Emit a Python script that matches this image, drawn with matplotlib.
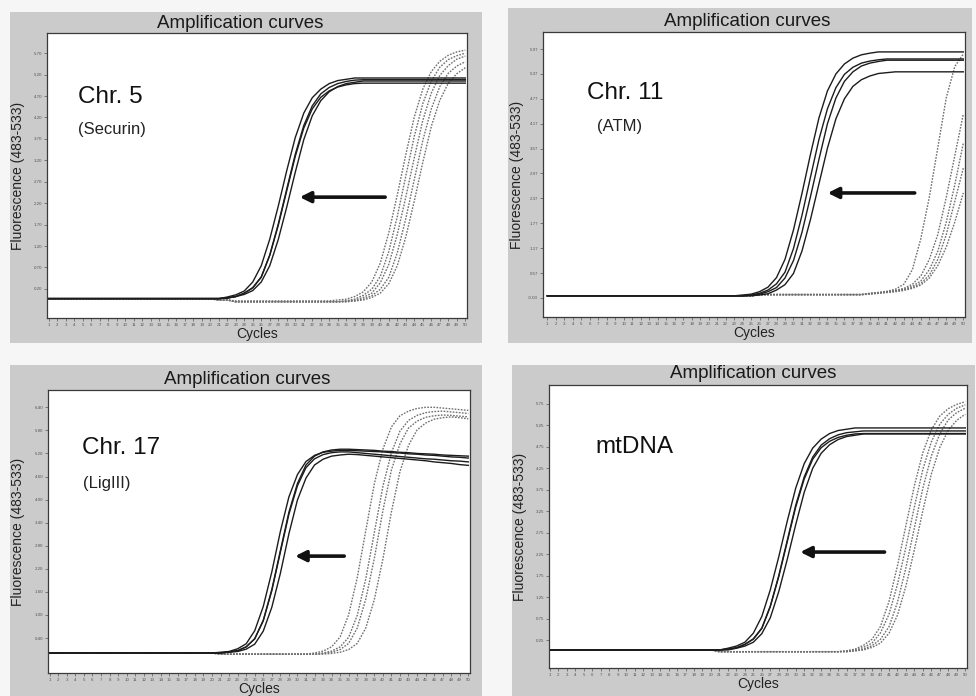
import numpy as np
import matplotlib
matplotlib.use("Agg")
import matplotlib.pyplot as plt
from matplotlib.patches import Rectangle

plt.rcParams['font.family'] = ['Liberation Sans', 'DejaVu Sans']

cycles = np.arange(1, 51)

# ---- Chr. 5 (Securin) ----
chr5_ticks = [0.20, 0.70, 1.20, 1.70, 2.20, 2.70, 3.20, 3.70, 4.20, 4.70, 5.20, 5.70]
chr5_solid = [
    [-0.03] * 21 + [-0.01, 0.02, 0.10, 0.23, 0.48, 0.99, 1.71, 2.53, 3.34, 4.01, 4.47, 4.75, 4.90, 4.99, 5.04, 5.07] + [5.08] * 13,
    [-0.03] * 21 + [0.01, 0.06, 0.15, 0.36, 0.74, 1.36, 2.13, 2.96, 3.73, 4.30, 4.66, 4.86, 4.99, 5.06, 5.09] + [5.12] * 14,
    [-0.02] * 22 + [0.02, 0.07, 0.16, 0.36, 0.74, 1.35, 2.11, 2.92, 3.68, 4.24, 4.59, 4.80, 4.92, 4.99, 5.02] + [5.05] * 13,
    [-0.03] * 21 + [-0.01, 0.02, 0.10, 0.22, 0.47, 0.98, 1.68, 2.49, 3.29, 3.95, 4.40, 4.67, 4.82, 4.91, 4.96, 4.99] + [5.00] * 13,
]
chr5_dotted = [
    [-0.03] * 20 + [-0.06] * 2 + [-0.08] * 12 + [-0.06, -0.04, 0.02, 0.13, 0.36, 0.80, 1.51, 2.39, 3.33, 4.21, 4.86, 5.27, 5.51, 5.65, 5.73, 5.77],
    [-0.03] * 20 + [-0.06] * 2 + [-0.10] * 13 + [-0.08, -0.04, 0.05, 0.19, 0.49, 1.07, 1.89, 2.83, 3.76, 4.52, 5.05, 5.37, 5.55, 5.64, 5.70],
    [-0.03] * 20 + [-0.06] * 2 + [-0.10] * 13 + [-0.08, -0.06, 0.00, 0.10, 0.34, 0.77, 1.47, 2.34, 3.26, 4.13, 4.77, 5.18, 5.41, 5.56, 5.63],
    [-0.03] * 20 + [-0.06] * 2 + [-0.10] * 14 + [-0.08, -0.04, 0.04, 0.19, 0.47, 1.04, 1.84, 2.75, 3.66, 4.40, 4.92, 5.23, 5.40, 5.50],
    [-0.03] * 20 + [-0.06] * 2 + [-0.10] * 14 + [-0.08, -0.06, 0.00, 0.10, 0.32, 0.74, 1.41, 2.25, 3.15, 3.99, 4.60, 5.00, 5.22, 5.36],
]

# ---- Chr. 11 (ATM) ----
chr11_ticks = [-0.03, 0.57, 1.17, 1.77, 2.37, 2.97, 3.57, 4.17, 4.77, 5.37, 5.97]
chr11_solid = [
    [0.02] * 23 + [0.04, 0.06, 0.12, 0.23, 0.46, 0.90, 1.61, 2.49, 3.43, 4.31, 4.96, 5.37, 5.61, 5.75, 5.83, 5.87] + [5.90] * 11,
    [0.02] * 24 + [0.04, 0.08, 0.16, 0.31, 0.59, 1.16, 1.96, 2.88, 3.79, 4.53, 5.04, 5.36, 5.53, 5.63, 5.68, 5.71] + [5.73] * 10,
    [0.02] * 24 + [0.04, 0.06, 0.12, 0.22, 0.45, 0.87, 1.55, 2.41, 3.31, 4.17, 4.79, 5.19, 5.42, 5.56, 5.63, 5.67] + [5.70] * 10,
    [0.02] * 25 + [0.04, 0.07, 0.16, 0.29, 0.56, 1.10, 1.86, 2.72, 3.58, 4.29, 4.77, 5.07, 5.23, 5.32, 5.38, 5.40] + [5.42] * 9,
]
chr11_dotted = [
    [0.02] * 25 + [0.05] * 13 + [0.08, 0.10, 0.13, 0.18, 0.30, 0.65, 1.40, 2.40, 3.60, 4.80, 5.55, 5.85],
    [0.02] * 25 + [0.05] * 13 + [0.08, 0.10, 0.12, 0.15, 0.20, 0.30, 0.50, 0.90, 1.50, 2.40, 3.40, 4.40],
    [0.02] * 25 + [0.05] * 13 + [0.07, 0.09, 0.11, 0.14, 0.18, 0.25, 0.38, 0.65, 1.10, 1.80, 2.70, 3.70],
    [0.02] * 25 + [0.05] * 13 + [0.07, 0.09, 0.11, 0.13, 0.17, 0.22, 0.32, 0.52, 0.90, 1.50, 2.30, 3.10],
    [0.02] * 25 + [0.05] * 13 + [0.06, 0.08, 0.10, 0.12, 0.15, 0.20, 0.28, 0.45, 0.75, 1.20, 1.80, 2.50],
]

# ---- Chr. 17 (LigIII) ----
chr17_ticks = [0.40, 1.00, 1.60, 2.20, 2.80, 3.40, 4.00, 4.60, 5.20, 5.80, 6.40]
chr17_solid = [
    [0.01] * 21 + [0.04, 0.07, 0.17, 0.38, 0.86, 1.66, 2.67, 3.67, 4.42, 4.90, 5.13, 5.24, 5.29, 5.31,
                   5.31, 5.30, 5.29, 5.28, 5.26, 5.25, 5.23, 5.22, 5.20, 5.19, 5.18, 5.16, 5.15, 5.14, 5.13],
    [0.01] * 21 + [0.04, 0.07, 0.17, 0.38, 0.85, 1.63, 2.63, 3.62, 4.36, 4.83, 5.06, 5.17, 5.22, 5.24,
                   5.24, 5.22, 5.20, 5.18, 5.16, 5.14, 5.12, 5.10, 5.08, 5.06, 5.05, 5.03, 5.01, 5.00, 4.98],
    [0.01] * 21 + [0.03, 0.05, 0.11, 0.24, 0.58, 1.20, 2.08, 3.11, 3.99, 4.56, 4.90, 5.05, 5.13, 5.16,
                   5.18, 5.17, 5.15, 5.13, 5.11, 5.09, 5.07, 5.05, 5.03, 5.01, 4.98, 4.96, 4.94, 4.91, 4.89],
    [0.01] * 20 + [0.03, 0.05, 0.12, 0.25, 0.59, 1.22, 2.12, 3.17, 4.07, 4.65, 4.99, 5.15, 5.23, 5.26, 5.28,
                   5.28, 5.27, 5.26, 5.25, 5.24, 5.22, 5.21, 5.19, 5.18, 5.16, 5.15, 5.13, 5.11, 5.10, 5.08],
]
chr17_dotted = [
    [0.01] * 20 + [-0.02] * 11 + [0.01, 0.06, 0.17, 0.43, 1.01, 1.97, 3.19, 4.41, 5.31, 5.89, 6.18, 6.30, 6.37, 6.40, 6.40, 6.38, 6.36, 6.34, 6.32],
    [0.01] * 20 + [-0.02] * 12 + [0.01, 0.06, 0.17, 0.42, 0.99, 1.94, 3.14, 4.34, 5.22, 5.78, 6.06, 6.19, 6.26, 6.29, 6.30, 6.28, 6.26, 6.24],
    [0.01] * 20 + [-0.02] * 12 + [0.00, 0.03, 0.10, 0.26, 0.66, 1.41, 2.47, 3.71, 4.77, 5.45, 5.86, 6.04, 6.14, 6.18, 6.20, 6.19, 6.17, 6.15],
    [0.01] * 20 + [-0.02] * 13 + [0.00, 0.03, 0.10, 0.26, 0.66, 1.40, 2.45, 3.68, 4.73, 5.41, 5.81, 5.99, 6.09, 6.13, 6.15, 6.13, 6.10],
]

# ---- mtDNA ----
mt_ticks = [0.25, 0.75, 1.25, 1.75, 2.25, 2.75, 3.25, 3.75, 4.25, 4.75, 5.25, 5.75]
mt_solid = [
    [0.02] * 21 + [0.06, 0.11, 0.20, 0.41, 0.80, 1.42, 2.19, 3.02, 3.79, 4.36, 4.72, 4.93, 5.06, 5.13, 5.16] + [5.19] * 14,
    [0.02] * 21 + [0.04, 0.07, 0.15, 0.28, 0.53, 1.04, 1.75, 2.57, 3.39, 4.05, 4.51, 4.79, 4.94, 5.03, 5.08, 5.10] + [5.12] * 13,
    [0.02] * 22 + [0.06, 0.11, 0.20, 0.40, 0.77, 1.38, 2.13, 2.94, 3.69, 4.25, 4.60, 4.80, 4.92, 4.99, 5.02] + [5.05] * 13,
    [0.02] * 21 + [0.04, 0.07, 0.15, 0.27, 0.52, 1.03, 1.73, 2.54, 3.35, 4.00, 4.46, 4.73, 4.88, 4.97, 5.02, 5.05] + [5.06] * 13,
]
mt_dotted = [
    [0.02] * 20 + [-0.02] * 15 + [0.00, 0.04, 0.13, 0.27, 0.57, 1.15, 1.98, 2.92, 3.85, 4.62, 5.15, 5.47, 5.64, 5.74, 5.80],
    [0.02] * 20 + [-0.02] * 15 + [0.00, 0.02, 0.08, 0.18, 0.42, 0.85, 1.55, 2.42, 3.36, 4.23, 4.87, 5.28, 5.51, 5.65, 5.73],
    [0.02] * 20 + [-0.02] * 16 + [0.00, 0.04, 0.12, 0.27, 0.56, 1.13, 1.94, 2.87, 3.79, 4.54, 5.06, 5.38, 5.55, 5.65],
    [0.02] * 20 + [-0.02] * 16 + [0.00, 0.02, 0.08, 0.18, 0.41, 0.83, 1.51, 2.36, 3.27, 4.12, 4.74, 5.14, 5.37, 5.51],
]

panels = [
    # frame and axes boxes in pixels (x0, y0, x1, y1) from the top left
    dict(frame=(10, 12, 482, 343), ax=(47, 33, 467, 318), xlim=(0.8, 50.2), ylim=(-0.48, 6.17),
         ticks=chr5_ticks, solid=chr5_solid, dotted=chr5_dotted,
         name="Chr. 5", sub="(Securin)", name_xy=(0.074, 0.775), sub_xy=(0.074, 0.66),
         arrow=(40.9, 30.2, 2.34), title_xy=(240, 23), ylab_x=18),
    dict(frame=(508, 8, 972, 343), ax=(543, 32, 965, 317), xlim=(0.5, 50.2), ylim=(-0.49, 6.38),
         ticks=chr11_ticks, solid=chr11_solid, dotted=chr11_dotted,
         name="Chr. 11", sub="(ATM)", name_xy=(0.104, 0.786), sub_xy=(0.128, 0.67),
         arrow=(44.6, 33.7, 2.5), title_xy=(747, 21), ylab_x=517),
    dict(frame=(10, 365, 482, 696), ax=(48, 390, 470, 673), xlim=(0.8, 50.2), ylim=(-0.51, 6.85),
         ticks=chr17_ticks, solid=chr17_solid, dotted=chr17_dotted,
         name="Chr. 17", sub="(LigIII)", name_xy=(0.08, 0.795), sub_xy=(0.083, 0.67),
         arrow=(35.8, 29.4, 2.53), title_xy=(247, 379), ylab_x=18),
    dict(frame=(512, 365, 975, 696), ax=(549, 385, 967, 668), xlim=(0.9, 50.2), ylim=(-0.40, 6.19),
         ticks=mt_ticks, solid=mt_solid, dotted=mt_dotted,
         name="mtDNA", sub=None, name_xy=(0.11, 0.78), sub_xy=None,
         arrow=(40.8, 30.2, 2.3), title_xy=(753, 373), ylab_x=520),
]

W, H = 976, 696
fig = plt.figure(figsize=(W / 100, H / 100), dpi=100)
fig.patch.set_facecolor("#f6f6f6")

for p in panels:
    x0, y0, x1, y1 = p["frame"]
    fig.patches.append(Rectangle((x0 / W, 1 - y1 / H), (x1 - x0) / W, (y1 - y0) / H,
                                 transform=fig.transFigure, facecolor="#cbcbcb",
                                 edgecolor="none", zorder=-5))
    a0, b0, a1, b1 = p["ax"]
    ax = fig.add_axes([a0 / W, 1 - b1 / H, (a1 - a0) / W, (b1 - b0) / H], zorder=3)
    ax.set_facecolor("white")
    for s in ax.spines.values():
        s.set_color("#3a3a3a")
        s.set_linewidth(0.9)

    for vals in p["dotted"]:
        assert len(vals) == 50
        ax.plot(cycles, vals, color="#707070", lw=1.0, ls=(0, (1.2, 1.0)))
    for vals in p["solid"]:
        assert len(vals) == 50
        ax.plot(cycles, vals, color="#1c1c1c", lw=1.0)

    ax.set_xlim(*p["xlim"])
    ax.set_ylim(*p["ylim"])
    ax.set_xticks(cycles)
    ax.set_xticklabels([str(c) for c in cycles], fontsize=3.2, color="#555555")
    ax.set_yticks(p["ticks"])
    ax.set_yticklabels([f"{t:.2f}" for t in p["ticks"]], fontsize=3.2, color="#555555")
    ax.tick_params(length=2, width=0.5, pad=1.5, colors="#555555")
    ax.set_xlabel("Cycles", fontsize=10, labelpad=0, color="#222222")

    ax.text(p["name_xy"][0], p["name_xy"][1], p["name"], transform=ax.transAxes,
            fontsize=17.5, va="center", ha="left", color="#111111")
    if p["sub"]:
        ax.text(p["sub_xy"][0], p["sub_xy"][1], p["sub"], transform=ax.transAxes,
                fontsize=12, va="center", ha="left", color="#222222")

    tail, head, ya = p["arrow"]
    ax.annotate("", xy=(head, ya), xytext=(tail, ya),
                arrowprops=dict(arrowstyle="-|>", lw=2.6, color="#111111", mutation_scale=16))

    fig.text(p["title_xy"][0] / W, 1 - p["title_xy"][1] / H, "Amplification curves",
             fontsize=13.5, ha="center", va="center", color="#1a1a1a")
    fig.text(p["ylab_x"] / W, 1 - ((b0 + b1) / 2) / H, "Fluorescence (483-533)",
             fontsize=10, rotation=90, ha="center", va="center", color="#222222")

fig.savefig("out.png", dpi=100, facecolor=fig.get_facecolor())
